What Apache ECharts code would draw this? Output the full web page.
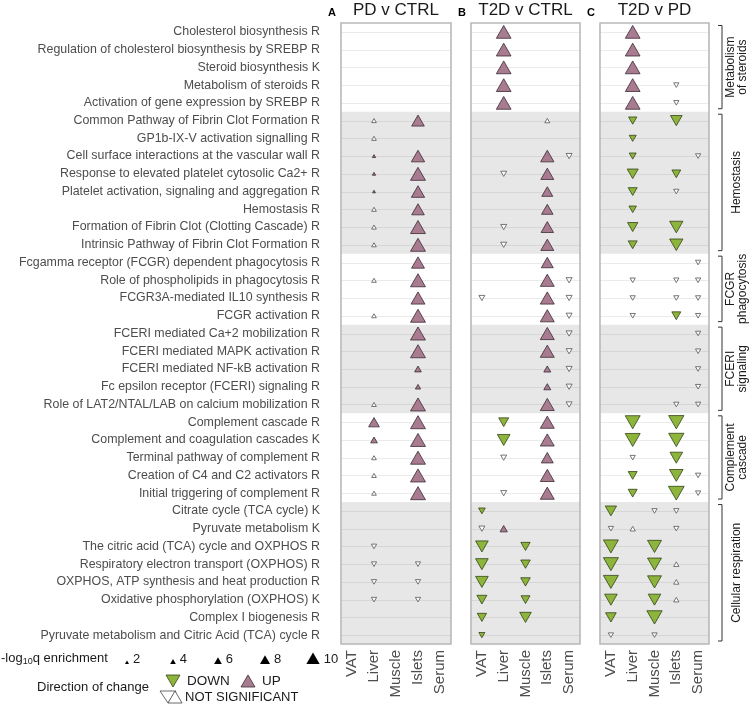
<!DOCTYPE html>
<html><head><meta charset="utf-8">
<script src="https://cdn.jsdelivr.net/npm/echarts@6/dist/echarts.min.js"></script>
<style>html,body{margin:0;padding:0;background:#fff}#c{width:750px;height:706px}</style>
</head><body><div id="c"></div>
<script>
// ---------------- DATA ----------------
const tissues = ['VAT', 'Liver', 'Muscle', 'Islets', 'Serum'];

const pathways = [
  'Cholesterol biosynthesis R',
  'Regulation of cholesterol biosynthesis by SREBP R',
  'Steroid biosynthesis K',
  'Metabolism of steroids R',
  'Activation of gene expression by SREBP R',
  'Common Pathway of Fibrin Clot Formation R',
  'GP1b-IX-V activation signalling R',
  'Cell surface interactions at the vascular wall R',
  'Response to elevated platelet cytosolic Ca2+ R',
  'Platelet activation, signaling and aggregation R',
  'Hemostasis R',
  'Formation of Fibrin Clot (Clotting Cascade) R',
  'Intrinsic Pathway of Fibrin Clot Formation R',
  'Fcgamma receptor (FCGR) dependent phagocytosis R',
  'Role of phospholipids in phagocytosis R',
  'FCGR3A-mediated IL10 synthesis R',
  'FCGR activation R',
  'FCERI mediated Ca+2 mobilization R',
  'FCERI mediated MAPK activation R',
  'FCERI mediated NF-kB activation R',
  'Fc epsilon receptor (FCERI) signaling R',
  'Role of LAT2/NTAL/LAB on calcium mobilization R',
  'Complement cascade R',
  'Complement and coagulation cascades K',
  'Terminal pathway of complement R',
  'Creation of C4 and C2 activators R',
  'Initial triggering of complement R',
  'Citrate cycle (TCA cycle) K',
  'Pyruvate metabolism K',
  'The citric acid (TCA) cycle and OXPHOS R',
  'Respiratory electron transport (OXPHOS) R',
  'OXPHOS, ATP synthesis and heat production R',
  'Oxidative phosphorylation (OXPHOS) K',
  'Complex I biogenesis R',
  'Pyruvate metabolism and Citric Acid (TCA) cycle R'
];

const groupLabels = ['Metabolism\nof steroids', 'Hemostasis', 'FCGR\nphagocytosis', 'FCERI\nsignaling', 'Complement\ncascade', 'Cellular respiration'];
const groupSizes = [5, 8, 4, 5, 5, 8];
const groupShaded = [false, true, false, true, false, true];

const panelTitles = ['PD v CTRL', 'T2D v CTRL', 'T2D v PD'];
const panelLetters = ['A', 'B', 'C'];

// -log10q legend breaks
const legendBreaks = [2, 4, 6, 8, 10];

// [row (1-based), tissue, direction, -log10 q]
const panelA = [
  [6,'Liver','NSU',2.8],[6,'Islets','UP',9.6],
  [7,'Liver','NSU',2.8],
  [8,'Liver','UP',1.2],[8,'Islets','UP',10],
  [9,'Liver','UP',1.2],[9,'Islets','UP',11],
  [10,'Liver','UP',0.7],[10,'Islets','UP',10],
  [11,'Liver','NSU',2.8],[11,'Islets','UP',9.6],
  [12,'Liver','NSU',2.8],[12,'Islets','UP',11],
  [13,'Liver','NSU',2.8],[13,'Islets','UP',11],
  [14,'Islets','UP',9.8],
  [15,'Liver','NSU',2.8],[15,'Islets','UP',11],
  [16,'Islets','UP',10.4],
  [17,'Liver','NSU',2.8],[17,'Islets','UP',11],
  [18,'Islets','UP',11],
  [19,'Islets','UP',11],
  [20,'Islets','UP',5],
  [21,'Islets','UP',3.5],
  [22,'Liver','NSU',2.8],[22,'Islets','UP',11],
  [23,'Liver','UP',8.4],[23,'Islets','UP',11],
  [24,'Liver','UP',5],[24,'Islets','UP',11],
  [25,'Liver','NSU',2.8],[25,'Islets','UP',11],
  [26,'Liver','NSU',2.8],[26,'Islets','UP',11],
  [27,'Liver','NSU',2.8],[27,'Islets','UP',11],
  [30,'Liver','NSD',3.5],
  [31,'Liver','NSD',3.5],[31,'Islets','NSD',3.5],
  [32,'Liver','NSD',3.5],[32,'Islets','NSD',3.5],
  [33,'Liver','NSD',3.5],[33,'Islets','NSD',3.5]
];

const panelB = [
  [1,'Liver','UP',10.85],[2,'Liver','UP',10.85],[3,'Liver','UP',10.85],
  [4,'Liver','UP',10.85],[5,'Liver','UP',10.85],
  [6,'Islets','NSU',3.2],
  [8,'Islets','UP',10],[8,'Serum','NSD',4.3],
  [9,'Liver','NSD',4.3],[9,'Islets','UP',9.8],
  [10,'Islets','UP',8.6],
  [11,'Islets','UP',8.9],
  [12,'Liver','NSD',4.3],[12,'Islets','UP',9.5],
  [13,'Liver','NSD',4.3],[13,'Islets','UP',9.8],
  [14,'Islets','UP',9.2],
  [15,'Islets','UP',10.4],[15,'Serum','NSD',4.3],
  [16,'VAT','NSD',4.3],[16,'Islets','UP',10.4],[16,'Serum','NSD',4.3],
  [17,'Islets','UP',10.4],[17,'Serum','NSD',4.3],
  [18,'Islets','UP',10.4],[18,'Serum','NSD',4.3],
  [19,'Islets','UP',10.4],[19,'Serum','NSD',4.3],
  [20,'Islets','UP',5.3],[20,'Serum','NSD',4.3],
  [21,'Islets','UP',5.3],[21,'Serum','NSD',4.3],
  [22,'Islets','UP',10.4],[22,'Serum','NSD',4.3],
  [23,'Liver','DOWN',8],[23,'Islets','UP',10.4],
  [24,'Liver','DOWN',9.6],[24,'Islets','UP',10.4],
  [25,'Liver','NSD',4.3],[25,'Islets','UP',9.2],
  [26,'Islets','UP',10.4],
  [27,'Liver','NSD',4.3],[27,'Islets','UP',10.4],
  [28,'VAT','DOWN',5],
  [29,'VAT','NSD',4.3],[29,'Liver','UP',5.6],
  [30,'VAT','DOWN',9.6],[30,'Muscle','DOWN',7.4],
  [31,'VAT','DOWN',9.6],[31,'Muscle','DOWN',7.6],
  [32,'VAT','DOWN',9.6],[32,'Muscle','DOWN',7.6],
  [33,'VAT','DOWN',8],[33,'Muscle','DOWN',7.1],
  [34,'VAT','DOWN',7.4],[34,'Muscle','DOWN',9],
  [35,'VAT','DOWN',4.3]
];

const panelC = [
  [1,'Liver','UP',10.85],[2,'Liver','UP',10.85],[3,'Liver','UP',10.85],
  [4,'Liver','UP',10.85],[4,'Islets','NSD',3.5],
  [5,'Liver','UP',10.85],[5,'Islets','NSD',3.5],
  [6,'Liver','DOWN',6.5],[6,'Islets','DOWN',9],
  [7,'Liver','DOWN',5.3],
  [8,'Liver','DOWN',5.3],[8,'Serum','NSD',3.5],
  [9,'Liver','DOWN',8.6],[9,'Islets','DOWN',7],
  [10,'Liver','DOWN',7.1],[10,'Islets','NSD',3.5],
  [11,'Liver','DOWN',5.8],
  [12,'Liver','DOWN',8.2],[12,'Islets','DOWN',10],
  [13,'Liver','DOWN',7.1],[13,'Islets','DOWN',10],
  [14,'Serum','NSD',3.5],
  [15,'Liver','NSD',3.5],[15,'Islets','NSD',3.5],[15,'Serum','NSD',3.5],
  [16,'Liver','NSD',3.5],[16,'Islets','NSD',3.5],[16,'Serum','NSD',3.5],
  [17,'Liver','NSD',3.5],[17,'Islets','DOWN',7.1],[17,'Serum','NSD',3.5],
  [18,'Serum','NSD',3.5],
  [19,'Serum','NSD',3.5],
  [20,'Serum','NSD',3.5],
  [21,'Serum','NSD',3.5],
  [22,'Islets','NSD',3.5],[22,'Serum','NSD',3.5],
  [23,'Liver','DOWN',11],[23,'Islets','DOWN',11.2],
  [24,'Liver','DOWN',11],[24,'Islets','DOWN',11.2],
  [25,'Liver','NSD',3.5],[25,'Islets','DOWN',9.6],
  [26,'Liver','DOWN',7.1],[26,'Islets','DOWN',10.2],[26,'Serum','NSD',3.5],
  [27,'Liver','DOWN',7.1],[27,'Islets','DOWN',11.5],[27,'Serum','NSD',3.5],
  [28,'VAT','DOWN',8.8],[28,'Muscle','NSD',3.5],[28,'Islets','NSD',3.5],
  [29,'VAT','NSD',3.5],[29,'Liver','NSU',3.5],[29,'Islets','NSD',3.5],
  [30,'VAT','DOWN',11],[30,'Muscle','DOWN',10.4],
  [31,'VAT','DOWN',11],[31,'Muscle','DOWN',10.4],[31,'Islets','NSU',3.5],
  [32,'VAT','DOWN',11],[32,'Muscle','DOWN',10.4],[32,'Islets','NSU',3.5],
  [33,'VAT','DOWN',9.6],[33,'Muscle','DOWN',9.6],[33,'Islets','NSU',3.5],
  [34,'VAT','DOWN',8.4],[34,'Muscle','DOWN',11.2],
  [35,'VAT','NSD',3.5],[35,'Muscle','NSD',3.5]
];

const panels = [panelA, panelB, panelC];

// ---------------- STYLE / LAYOUT ----------------
const FONT = '"Liberation Sans", Arial, Helvetica, sans-serif';
const GRIDS = [{left: 341, width: 110}, {left: 471, width: 109}, {left: 600, width: 109}];
const TOP = 23, HEIGHT = 621;
const TEXT_GRAY = '#4d4d4d';
const SIZE_PX = [4, 5.7, 7.7, 10, 13.3]; // pixel width for each legend break
const DIRS = {
  UP:   {rot: 0,   fill: '#a97b91', stroke: '#3a2b33'},
  DOWN: {rot: 180, fill: '#8db43b', stroke: '#33431a'},
  NSU:  {rot: 0,   fill: '#ffffff', stroke: '#555555'},
  NSD:  {rot: 180, fill: '#ffffff', stroke: '#555555'}
};

function sizeScale(v) {
  const xs = legendBreaks, ys = SIZE_PX;
  let i = 0;
  if (v <= xs[0]) i = 0;
  else if (v >= xs[xs.length - 1]) i = xs.length - 2;
  else { while (v > xs[i + 1]) i++; }
  const w = ys[i] + (v - xs[i]) * (ys[i + 1] - ys[i]) / (xs[i + 1] - xs[i]);
  return Math.max(2.2, w);
}

const rowShade = [];
groupSizes.forEach((n, g) => { for (let k = 0; k < n; k++) rowShade.push(groupShaded[g] ? 1 : 0); });

const grids = [], xAxes = [], yAxes = [], series = [];
GRIDS.forEach((g, p) => {
  grids.push({left: g.left, width: g.width, top: TOP, height: HEIGHT, containLabel: false, outerBoundsMode: 'none', show: false});
  xAxes.push({
    type: 'category', gridIndex: p, data: tissues, boundaryGap: true,
    axisLine: {show: false}, axisTick: {show: false}, splitLine: {show: false},
    axisLabel: {rotate: 90, margin: 6, fontSize: 15, color: TEXT_GRAY, fontFamily: FONT, interval: 0}
  });
  yAxes.push({
    type: 'category', gridIndex: p, data: pathways, inverse: true, boundaryGap: true,
    axisLine: {show: false}, axisTick: {show: false}, splitLine: {show: false},
    axisLabel: {show: p === 0, margin: 21, fontSize: 12.4, color: TEXT_GRAY, fontFamily: FONT, interval: 0}
  });
  // background bands + row lines
  series.push({
    type: 'custom', xAxisIndex: p, yAxisIndex: p, silent: true, z: 1,
    encode: {x: 0, y: 1},
    data: pathways.map((name, i) => [tissues[0], name, rowShade[i]]),
    renderItem: function (params, api) {
      const cs = params.coordSys;
      const yc = api.coord([0, api.value(1)])[1];
      const bh = api.size([0, 1])[1];
      const sh = api.value(2);
      const yl = Math.round(yc) + 0.5;
      return {type: 'group', children: [
        {type: 'rect', shape: {x: cs.x, y: yc - bh / 2, width: cs.width, height: bh + 0.5},
          style: {fill: sh ? '#e7e7e7' : '#ffffff'}},
        {type: 'line', shape: {x1: cs.x, y1: yl, x2: cs.x + cs.width, y2: yl},
          style: {stroke: sh ? '#d6d6d6' : '#ebebeb', lineWidth: 1}}
      ]};
    }
  });
  Object.keys(DIRS).forEach(d => {
    const st = DIRS[d];
    series.push({
      type: 'scatter', xAxisIndex: p, yAxisIndex: p, z: 3, silent: true,
      symbol: 'triangle', symbolRotate: st.rot,
      symbolSize: function (val) { const w = sizeScale(val[2]); return [w, w * 0.87]; },
      itemStyle: {color: st.fill, borderColor: st.stroke, borderWidth: 0.8, opacity: 1},
      emphasis: {disabled: true},
      data: panels[p].filter(e => e[2] === d).map(e => [e[1], pathways[e[0] - 1], e[3]])
    });
  });
});

const chart = echarts.init(document.getElementById('c'), null, {renderer: 'canvas'});
chart.setOption({
  animation: false,
  backgroundColor: '#ffffff',
  textStyle: {fontFamily: FONT},
  grid: grids, xAxis: xAxes, yAxis: yAxes, series: series
});

// ---------------- decorations ----------------
const gfx = [];
GRIDS.forEach((g, p) => {
  gfx.push({type: 'rect', z: 50, shape: {x: g.left, y: TOP, width: g.width, height: HEIGHT},
    style: {fill: null, stroke: '#b9b9b9', lineWidth: 1.6}});
  gfx.push({type: 'text', z: 50, x: g.left + g.width / 2, y: 10,
    style: {text: panelTitles[p], font: '17px ' + FONT, fill: '#1a1a1a', textAlign: 'center', textVerticalAlign: 'middle'}});
  gfx.push({type: 'text', z: 50, x: g.left - 9, y: 13,
    style: {text: panelLetters[p], font: 'bold 11px ' + FONT, fill: '#000', textAlign: 'center', textVerticalAlign: 'middle'}});
});

// group brackets on the right
let start = 0;
const bx = 722;
groupSizes.forEach((n, gi) => {
  const y0 = chart.convertToPixel({yAxisIndex: 2}, pathways[start]);
  const y1 = chart.convertToPixel({yAxisIndex: 2}, pathways[start + n - 1]);
  const half = HEIGHT / pathways.length / 2;
  const top = y0 - half + 2.5, bot = y1 + half - 3;
  gfx.push({type: 'polyline', z: 50, shape: {points: [[bx - 4, top], [bx, top], [bx, bot], [bx - 4, bot]]},
    style: {stroke: '#333', lineWidth: 1, fill: null}});
  gfx.push({type: 'text', z: 50, x: 737, y: (top + bot) / 2, rotation: Math.PI / 2,
    style: {text: groupLabels[gi], font: '12px ' + FONT, fill: '#1a1a1a', textAlign: 'center', textVerticalAlign: 'middle', lineHeight: 12}});
  start += n;
});

// size legend
gfx.push({type: 'text', z: 50, x: 1, y: 658,
  style: {text: '{a|-log}{s|10}{a|q enrichment}', textVerticalAlign: 'middle',
    rich: {a: {font: '13px ' + FONT, fill: '#1a1a1a', lineHeight: 16, verticalAlign: 'middle'},
           s: {font: '9px ' + FONT, fill: '#1a1a1a', lineHeight: 10, verticalAlign: 'bottom'}}}});
const legX = [127, 173, 218, 265, 313];
legendBreaks.forEach((v, i) => {
  const w = sizeScale(v), h = w * 0.87, cx = legX[i], base = 664;
  gfx.push({type: 'polygon', z: 50, shape: {points: [[cx - w / 2, base], [cx + w / 2, base], [cx, base - h]]},
    style: {fill: '#000'}});
  gfx.push({type: 'text', z: 50, x: cx + w / 2 + 4, y: 659,
    style: {text: String(v), font: '13px ' + FONT, fill: '#1a1a1a', textVerticalAlign: 'middle'}});
});

// direction legend
gfx.push({type: 'text', z: 50, x: 37, y: 687,
  style: {text: 'Direction of change', font: '13px ' + FONT, fill: '#1a1a1a', textVerticalAlign: 'middle'}});
gfx.push({type: 'polygon', z: 50, shape: {points: [[166, 675], [180, 675], [173, 687]]},
  style: {fill: DIRS.DOWN.fill, stroke: DIRS.DOWN.stroke, lineWidth: 0.8}});
gfx.push({type: 'text', z: 50, x: 187, y: 681,
  style: {text: 'DOWN', font: '13.5px ' + FONT, fill: '#1a1a1a', textVerticalAlign: 'middle'}});
gfx.push({type: 'polygon', z: 50, shape: {points: [[241, 687], [255, 687], [248, 675]]},
  style: {fill: DIRS.UP.fill, stroke: DIRS.UP.stroke, lineWidth: 0.8}});
gfx.push({type: 'text', z: 50, x: 262, y: 681,
  style: {text: 'UP', font: '13.5px ' + FONT, fill: '#1a1a1a', textVerticalAlign: 'middle'}});
gfx.push({type: 'polygon', z: 50, shape: {points: [[160, 691], [176, 691], [168, 703]]},
  style: {fill: '#fff', stroke: '#444', lineWidth: 0.8}});
gfx.push({type: 'polygon', z: 51, shape: {points: [[168, 703], [182, 703], [175, 691]]},
  style: {fill: '#fff', stroke: '#444', lineWidth: 0.8}});
gfx.push({type: 'text', z: 50, x: 185, y: 697,
  style: {text: 'NOT SIGNIFICANT', font: '13px ' + FONT, fill: '#1a1a1a', textVerticalAlign: 'middle'}});

chart.setOption({graphic: {elements: gfx}});
</script>
</body></html>
